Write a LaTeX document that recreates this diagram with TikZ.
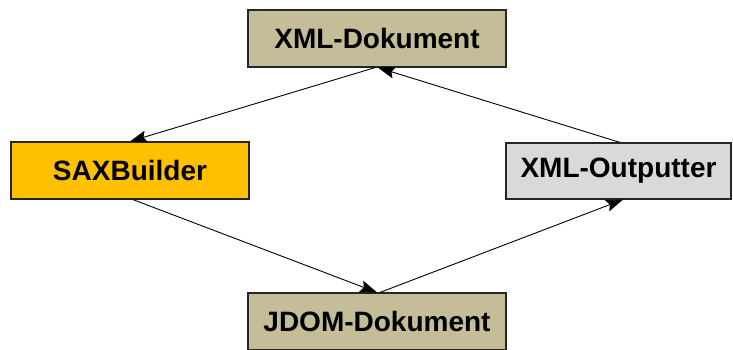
\documentclass[tikz,border=0pt]{standalone}
\usepackage{fontspec}
\setmainfont{Liberation Sans}
\usetikzlibrary{arrows.meta}
\definecolor{tanfill}{RGB}{196,189,151}
\definecolor{orangefill}{RGB}{255,192,0}
\definecolor{greyfill}{RGB}{217,217,217}
\begin{document}
\begin{tikzpicture}[x=1pt,y=-1pt,
  box/.style={draw=black!85,line width=1.2pt,minimum height=57pt,inner sep=0pt,
    font=\fontsize{28}{32}\selectfont\bfseries},
  arr/.style={draw=black,line width=0.9pt,-{Stealth[length=17pt,width=12pt,inset=3pt]}}]
  \useasboundingbox (0,0) rectangle (733,349);
  \clip (0,0) rectangle (733,349);
  \fill[white] (0,0) rectangle (733,349);
  % boxes
  \node[box,fill=tanfill,minimum width=258pt] (xml) at (377,38.5) {XML-Dokument};
  \node[box,fill=orangefill,minimum width=238pt] (sax) at (130,170.5) {SAXBuilder};
  \node[box,fill=greyfill,minimum width=225pt,minimum height=56pt] (out) at (618.5,171) {XML-Outputter};
  \node[box,fill=tanfill,minimum width=258pt] (jdom) at (377,321.5) {JDOM-Dokument};
  % cycle of arrows
  \draw[arr] ([xshift=-2pt]xml.south) -- (sax.north);
  \draw[arr] ([xshift=3pt]sax.south) -- (jdom.north);
  \draw[arr] ([xshift=3pt]jdom.north) -- ([xshift=4.5pt]out.south);
  \draw[arr] ([xshift=1.5pt]out.north) -- ([xshift=1pt]xml.south);
\end{tikzpicture}
\end{document}
